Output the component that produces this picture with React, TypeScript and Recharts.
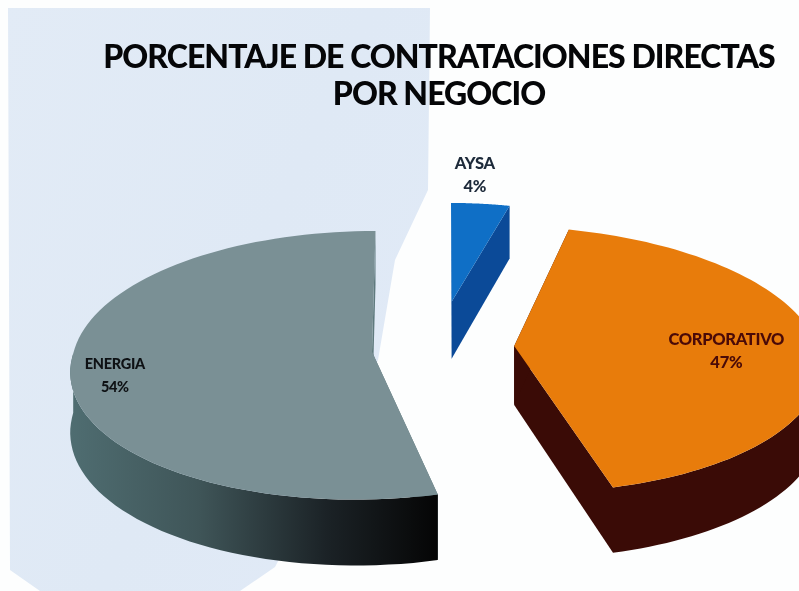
import { Pie, PieChart } from 'recharts';

const negocios = ['ENERGIA', 'CORPORATIVO', 'AYSA'];
const valores = [54, 42, 4];
const etiquetas = ['54%', '47%', '4%'];
const colorTapa = ['#7a9095', '#e87c0b', '#0f6fc6'];
const colorPared = ['url(#paredEnergia)', '#3a0b06', '#0b4a98'];
const colorRadial = ['#5f7a7e', '#3a0b06', '#0b4a98'];
const colorTexto = ['#0e1114', '#4a0a08', '#1d2a3a'];
const radioSlice = [1, 1, 0.87];
const anchoSlice = [0.98, 1, 1];
const radioEtiqueta = [0.85, 0.7, 1.22];
const sesgoArriba = [3, 8, 0];
const sesgoAbajo = [-9, 8, 0];
const etiquetaDx = [3, 0, -16];
const etiquetaDy = [9, 5, 7];
const tamanoEtiqueta = [14.5, 16.5, 16.5];

const WIDTH = 799;
const HEIGHT = 591;
const EXPLODE_X = 0.235;
const EXPLODE_Y = 0.35;
const FLAT = 0.435;
const PERSP = 0.1;
const DEPTH = 59;

const data = negocios.map((name, i) => ({ name, value: valores[i], i }));

// maps a point of the (unit) pie plane to the screen, nearer points get bigger
function project(cx: number, cy: number, r: number, x: number, y: number) {
  const s = 1 / (1 - PERSP * y);
  return { x: cx + r * x * s, y: cy + r * FLAT * y * s, s };
}

function polar(a: number, rad: number) {
  const t = (a * Math.PI) / 180;
  return { x: rad * Math.cos(t), y: -rad * Math.sin(t) };
}

function offsetFor(mid: number) {
  const o = polar(mid, 1);
  return { x: o.x * EXPLODE_X, y: o.y * EXPLODE_Y };
}

const toPath = (pts: { x: number; y: number }[]) =>
  pts.map((p, i) => `${i ? 'L' : 'M'}${p.x.toFixed(1)} ${p.y.toFixed(1)}`).join(' ') + ' Z';

function Slice3D(props: any) {
  const { cx, cy, outerRadius, startAngle, endAngle, midAngle } = props;
  const i = props.payload?.i ?? props.i ?? props.index;
  const off = offsetFor(midAngle);
  const rad = radioSlice[i];
  const at = (a: number, k: number) => {
    const p = polar(a, k * rad);
    const q = project(cx, cy, outerRadius, off.x + p.x * anchoSlice[i], off.y + p.y);
    const sesgo = p.y < 0 ? sesgoArriba[i] : sesgoAbajo[i];
    return { ...q, x: q.x + sesgo * p.y };
  };
  const down = (p: { x: number; y: number; s: number }) => ({ x: p.x, y: p.y + DEPTH * p.s, s: p.s });

  const angles: number[] = [];
  const steps = 90;
  for (let k = 0; k <= steps; k++) angles.push(startAngle + ((endAngle - startAngle) * k) / steps);
  const arc = angles.map((a) => at(a, 1));
  const apex = at(midAngle, 0);
  const front = arc.filter((_, k) => Math.sin((angles[k] * Math.PI) / 180) <= 0.02);
  const wall = front.length ? toPath([...front, ...[...front].reverse().map(down)]) : null;
  const first = arc[0];
  const last = arc[arc.length - 1];

  return (
    <g>
      <path d={toPath([apex, first, down(first), down(apex)])} fill={colorRadial[i]} />
      <path d={toPath([apex, last, down(last), down(apex)])} fill={colorRadial[i]} />
      {wall && <path d={wall} fill={colorPared[i]} />}
      <path d={toPath([apex, ...arc])} fill={colorTapa[i]} />
    </g>
  );
}

function SliceLabel(props: any) {
  const { cx, cy, outerRadius, midAngle } = props;
  const i = props.payload?.i ?? props.i ?? props.index;
  const off = offsetFor(midAngle);
  const p = polar(midAngle, radioEtiqueta[i]);
  const c = project(cx, cy, outerRadius, off.x + p.x, off.y + p.y);
  const x = c.x + etiquetaDx[i];
  return (
    <text
      x={x}
      y={c.y + etiquetaDy[i]}
      textAnchor="middle"
      fontFamily="Lato, sans-serif"
      fontWeight={900}
      fontSize={tamanoEtiqueta[i]}
      letterSpacing={-0.3}
      fill={colorTexto[i]}
    >
      <tspan x={x} dy={-6}>
        {negocios[i]}
      </tspan>
      <tspan x={x} dy={23}>
        {etiquetas[i]}
      </tspan>
    </text>
  );
}

export default function App() {
  return (
    <div
      style={{
        position: 'fixed',
        left: 0,
        top: 0,
        width: WIDTH,
        height: HEIGHT,
        background: '#fdfefe',
        overflow: 'hidden',
      }}
    >
      {/* pale blue panel behind the left half */}
      <div
        style={{
          position: 'absolute',
          inset: 0,
          background: 'linear-gradient(115deg, #e2ebf6 0%, #dfe9f5 35%, #e3ebf9 100%)',
          clipPath:
            'polygon(8px 8px, 430px 8px, 428px 190px, 395px 260px, 378px 360px, 300px 520px, 275px 567px, 240px 591px, 40px 591px, 10px 570px)',
        }}
      />
      <div
        style={{
          position: 'absolute',
          left: 0,
          top: 37,
          width: 878,
          textAlign: 'center',
          fontFamily: 'Lato, sans-serif',
          fontWeight: 900,
          fontSize: 32,
          letterSpacing: -0.95,
          lineHeight: '37px',
          color: '#050608',
          filter: 'blur(0.4px)',
        }}
      >
        PORCENTAJE DE CONTRATACIONES DIRECTAS
        <br />
        POR NEGOCIO
      </div>
      <div style={{ position: 'absolute', left: 0, top: 0, filter: 'blur(0.5px)' }}>
        <PieChart width={WIDTH} height={HEIGHT} margin={{ top: 0, right: 0, bottom: 0, left: 0 }}>
          <defs>
            <linearGradient id="paredEnergia" x1="0" y1="0" x2="1" y2="0">
              <stop offset="0%" stopColor="#4f6d71" />
              <stop offset="35%" stopColor="#3f5558" />
              <stop offset="70%" stopColor="#1b2226" />
              <stop offset="100%" stopColor="#050505" />
            </linearGradient>
          </defs>
          <Pie
            data={data}
            dataKey="value"
            nameKey="name"
            cx={443}
            cy={346}
            innerRadius={0}
            outerRadius={303}
            startAngle={90}
            endAngle={450}
            paddingAngle={0}
            stroke="none"
            shape={Slice3D}
            label={SliceLabel}
            labelLine={false}
            isAnimationActive={false}
          />
        </PieChart>
      </div>
    </div>
  );
}
